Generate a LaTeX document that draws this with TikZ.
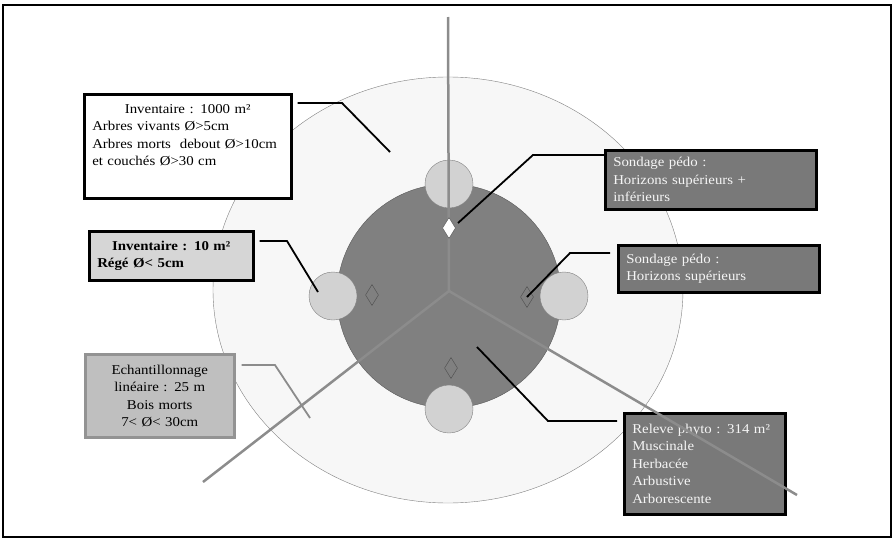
\documentclass[tikz,border=0pt]{standalone}
\usepackage{fontspec}
\setmainfont[FakeStretch=1.1]{Liberation Serif}
\usetikzlibrary{shapes,positioning,calc}

\begin{document}
\begin{tikzpicture}[x=1pt, y=-1pt, font=\fontsize{13.5}{17.5}\selectfont]

    % --- STYLES ---
    \tikzset{
        infobox/.style={draw=black, line width=2.5pt, anchor=north west, inner xsep=8pt, inner ysep=0pt},
        fonce/.style={infobox, fill=gray!95!black, text=gray!8, align=left},
        leader/.style={draw=black, line width=1.8pt},
        axe/.style={draw=gray!90, line width=2.5pt},
        petitcercle/.style={circle, draw=gray, fill=gray!35, minimum size=48pt, inner sep=0pt},
        losange/.style={diamond, draw=gray!60!black, fill=gray, minimum width=13pt, minimum height=21pt, inner sep=0pt}
    }

    \useasboundingbox (0,0) rectangle (895,541);
    \draw[line width=1.5pt] (3,5) rectangle (891,537); % cadre

    % --- PLACETTE ---
    \draw[fill=gray!6, draw=gray] (448,290) ellipse [x radius=235, y radius=213]; % 1000 m2
    \draw[fill=gray, draw=gray!70!black] (449,296) circle (112); % 314 m2

    % sous-placettes de 10 m2
    \node[petitcercle] (cn) at (449,184) {};
    \node[petitcercle] (cw) at (333,296) {};
    \node[petitcercle] (ce) at (564,296) {};
    \node[petitcercle] (cs) at (449,409) {};

    % --- ENCADRES ---
    \node[infobox, fill=white, align=left, text width=191pt, minimum height=104pt] (inv1000) at (83,93)
        {\makebox[\linewidth]{Inventaire : 1000 m²}\\ Arbres vivants Ø>5cm\\ Arbres morts\ \ debout Ø>10cm\\ et couchés Ø>30 cm\\ \strut};
    \node[infobox, fill=gray!32, align=left, text width=148pt, minimum height=49pt, font=\fontsize{13.5}{17.5}\selectfont\bfseries] (inv10) at (88,230)
        {\makebox[\linewidth]{Inventaire : 10 m²}\\ Régé Ø< 5cm};
    \node[infobox, draw=gray!85, fill=gray!50, align=center, text width=133pt, minimum height=83pt] (echant) at (84,353)
        {Echantillonnage\\ linéaire : 25 m\\ Bois morts\\ 7< Ø< 30cm};
    \node[fonce, text width=195pt, minimum height=59pt] (pedo2) at (604,149)
        {Sondage pédo :\\ Horizons supérieurs +\\ inférieurs};
    \node[fonce, text width=185pt, minimum height=47pt] (pedo1) at (617,244)
        {Sondage pédo :\\ Horizons supérieurs};
    \node[fonce, text width=145pt, minimum height=101pt] (phyto) at (623,412)
        {Releve phyto : 314 m²\\ Muscinale\\ Herbacée\\ Arbustive\\ Arborescente};

    % --- TRANSECTS ---
    \coordinate (centre) at (449,291);
    \coordinate (nord) at (448,17);
    \coordinate (sudouest) at (203,482);
    \coordinate (sudest) at (797,495);
    \draw[axe] (nord) -- (centre);
    \draw[axe] (sudouest) -- (centre) -- (sudest);

    % fosses pedologiques
    \node[losange, fill=white] (ln) at (449,228) {};
    \node[losange] (lw) at (372,295) {};
    \node[losange] (le) at (527,297) {};
    \node[losange] (ls) at (451,368) {};

    % --- RENVOIS ---
    \coordinate (k1) at (342,103); \coordinate (p1) at (390,152);
    \coordinate (k2) at (287,241); \coordinate (p2) at (318,292);
    \coordinate (k3) at (275,365); \coordinate (p3) at (310,418);
    \coordinate (k4) at (533,155); \coordinate (p4) at (458,223);
    \coordinate (k5) at (570,253);
    \coordinate (k6) at (548,421); \coordinate (p6) at (477,347);

    \draw[leader] ($(inv1000.east |- k1)+(5,0)$) -- (k1) -- (p1);
    \draw[leader] ($(inv10.east |- k2)+(5,0)$) -- (k2) -- (p2);
    \draw[leader, draw=gray!90] ($(echant.east |- k3)+(6,0)$) -- (k3) -- (p3);
    \draw[leader] (pedo2.west |- k4) -- (k4) -- (p4);
    \draw[leader] ($(pedo1.west |- k5)+(-7,0)$) -- (k5) -- (le.center);
    \draw[leader] ($(phyto.west |- k6)+(-6,0)$) -- (k6) -- (p6);

\end{tikzpicture}
\end{document}
